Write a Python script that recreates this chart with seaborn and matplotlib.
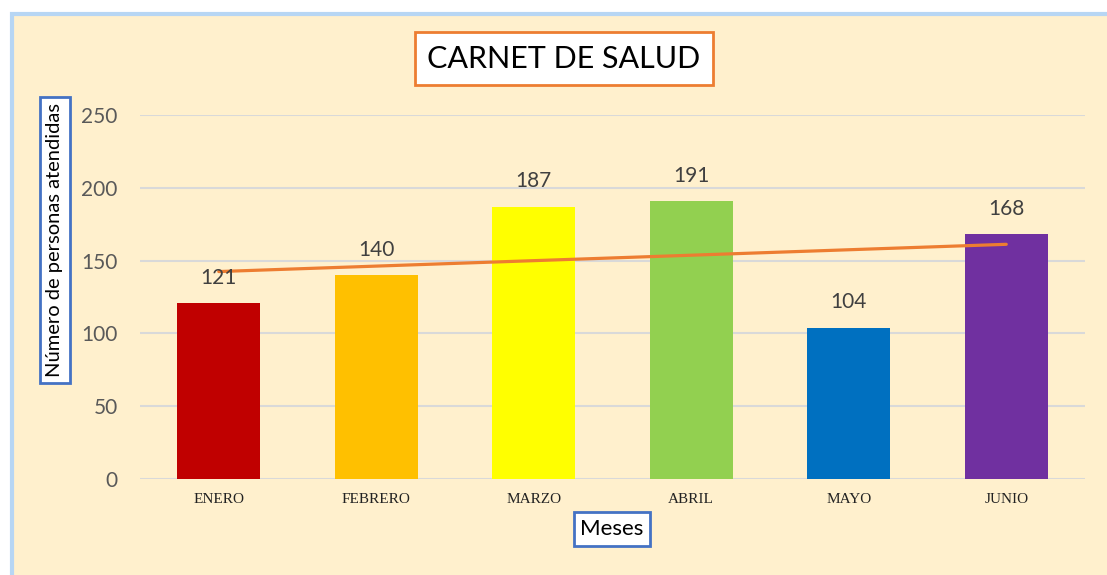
import numpy as np
import pandas as pd
import matplotlib
matplotlib.use('Agg')
import matplotlib.pyplot as plt
from matplotlib.patches import Rectangle
import seaborn as sns

# datos del gráfico
meses = ['ENERO', 'FEBRERO', 'MARZO', 'ABRIL', 'MAYO', 'JUNIO']
atendidos = [121, 140, 187, 191, 104, 168]
colores = ['#C00000', '#FFC000', '#FFFF00', '#92D050', '#0070C0', '#7030A0']
yticks = [0, 50, 100, 150, 200, 250]

df = pd.DataFrame({'Mes': meses, 'Atendidos': atendidos})

sns.set_theme(style='white')
plt.rcParams['font.family'] = ['Lato', 'DejaVu Sans']

fig = plt.figure(figsize=(11.07, 5.75), dpi=100)
fig.patch.set_facecolor('white')

# fondo del área del gráfico (borde solo visible arriba e izquierda)
fondo = Rectangle((12 / 1107, -0.05), 1.1, 1 - 14 / 575 + 0.05, transform=fig.transFigure,
                  facecolor='#FFF0CD', edgecolor='#B7D6F4', linewidth=3, zorder=-5)
fig.patches.append(fondo)

ax = fig.add_axes([140 / 1107, 1 - 479 / 575, 945 / 1107, 364 / 575])
ax.set_facecolor('none')
ax.set_zorder(2)

sns.barplot(data=df, x='Mes', y='Atendidos', hue='Mes', palette=colores,
            width=0.53, legend=False, ax=ax, zorder=3, saturation=1, linewidth=0)

# línea de tendencia
sns.regplot(x=np.arange(len(meses)), y=atendidos, scatter=False, ci=None, ax=ax,
            color='#ED7D31', line_kws={'linewidth': 2.3, 'zorder': 4})

for i, v in enumerate(atendidos):
    ax.annotate(str(v), (i, v), xytext=(0, 11), textcoords='offset points',
                ha='center', va='bottom', fontsize=15, color='#404040', zorder=5)

ax.set_xlim(-0.5, len(meses) - 0.5)
ax.set_ylim(0, 250)
ax.set_yticks(yticks)
ax.yaxis.grid(True, color='#D9D9D9', linewidth=1.5, zorder=0)
ax.set_axisbelow(True)
ax.tick_params(axis='y', labelsize=15, labelcolor='#595959', length=0, pad=16)
ax.tick_params(axis='x', length=0, pad=10)
for lbl in ax.get_xticklabels():
    lbl.set_family('Liberation Serif')
    lbl.set_fontsize(11)
    lbl.set_color('#222222')
for s in ax.spines.values():
    s.set_visible(False)
ax.set_xlabel('')
ax.set_ylabel('')

# títulos en cajas
fig.text(564 / 1107, 1 - 58.5 / 575, 'CARNET DE SALUD', ha='center', va='center',
         fontsize=22, color='black', zorder=6,
         bbox=dict(boxstyle='square,pad=0.4', facecolor='white', edgecolor='#ED7D31', linewidth=2))
fig.text(55 / 1107, 1 - 240 / 575, 'Número de personas atendidas', ha='center', va='center',
         rotation=90, fontsize=14.5, color='black', zorder=6,
         bbox=dict(boxstyle='square,pad=0.3', facecolor='white', edgecolor='#4472C4', linewidth=2))
fig.text(612 / 1107, 1 - 529 / 575, 'Meses', ha='center', va='center',
         fontsize=16, color='black', zorder=6,
         bbox=dict(boxstyle='square,pad=0.3', facecolor='white', edgecolor='#4472C4', linewidth=2))

fig.savefig('out.png', dpi=100)
plt.close(fig)
